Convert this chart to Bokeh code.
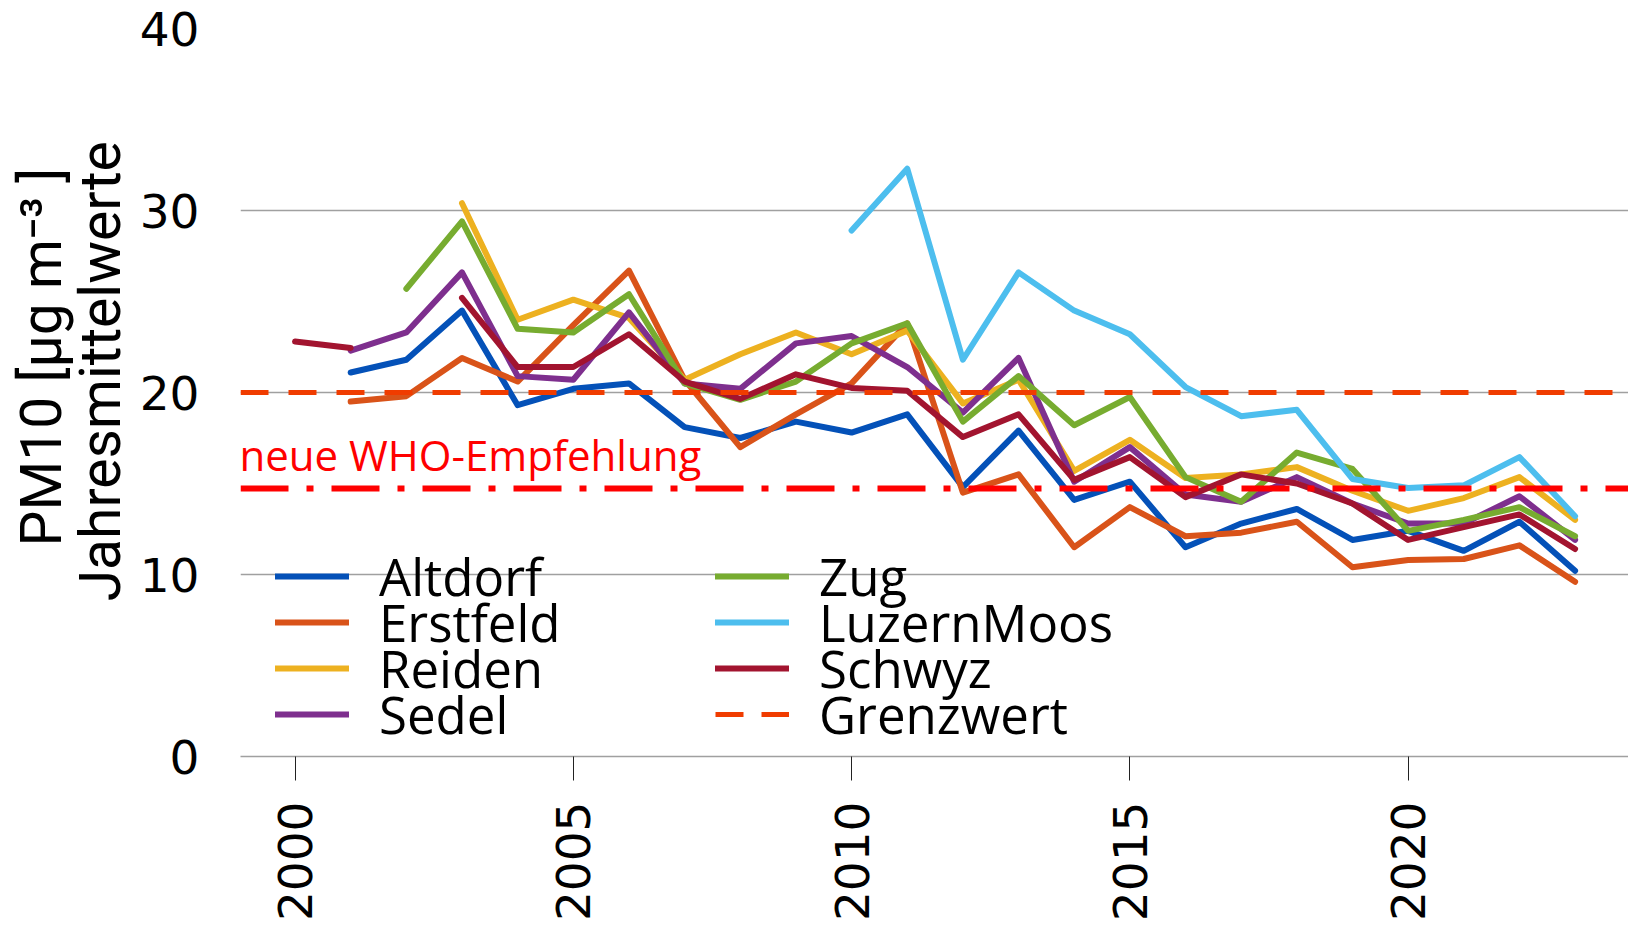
import math
from bokeh.plotting import figure
from bokeh.models import (Range1d, FixedTicker, Span, Label, Legend, LegendItem,
                          LinearAxis)
from bokeh.embed import file_html
from bokeh.resources import INLINE

nan = float("nan")

years = list(range(2000, 2024))

altdorf = [nan, 21.1, 21.8, 24.5, 19.3, 20.2, 20.5, 18.1, 17.5, 18.4, 17.8, 18.8,
           14.8, 17.9, 14.1, 15.1, 11.5, 12.8, 13.6, 11.9, 12.4, 11.3, 12.9, 10.2]
erstfeld = [nan, 19.5, 19.8, 21.9, 20.6, 23.7, 26.7, 20.7, 17.0, 18.8, 20.5, 23.8,
            14.5, 15.5, 11.5, 13.7, 12.1, 12.3, 12.9, 10.4, 10.8, 10.85, 11.6, 9.6]
reiden = [nan, nan, nan, 30.4, 24.0, 25.1, 24.1, 20.7, 22.1, 23.3, 22.1, 23.4,
          19.4, 20.7, 15.7, 17.4, 15.3, 15.5, 15.9, 14.6, 13.5, 14.2, 15.35, 13.0]
sedel = [nan, 22.3, 23.3, 26.6, 20.9, 20.7, 24.4, 20.5, 20.2, 22.7, 23.1, 21.4,
         18.9, 21.9, 15.1, 17.0, 14.4, 14.0, 15.35, 13.9, 12.8, 12.8, 14.3, 11.9]
zug = [nan, nan, 25.7, 29.4, 23.5, 23.3, 25.4, 20.5, 19.6, 20.6, 22.7, 23.8,
       18.4, 20.9, 18.2, 19.75, 15.35, 14.0, 16.7, 15.8, 12.4, 13.0, 13.7, 12.1]
luzernmoos = [nan, nan, nan, nan, nan, nan, nan, nan, nan, nan, 28.9, 32.3,
              21.8, 26.6, 24.5, 23.2, 20.3, 18.7, 19.05, 15.25, 14.75, 14.9, 16.45, 13.2]
schwyz = [22.8, 22.45, nan, 25.2, 21.4, 21.4, 23.2, 20.6, 19.65, 21.0, 20.25, 20.1,
          17.55, 18.8, 15.2, 16.45, 14.25, 15.5, 15.0, 13.9, 11.9, 12.6, 13.3, 11.4]

station_names = ["Altdorf", "Erstfeld", "Reiden", "Sedel", "Zug", "LuzernMoos", "Schwyz"]
station_values = [altdorf, erstfeld, reiden, sedel, zug, luzernmoos, schwyz]
station_colors = ["#0451B8", "#D95319", "#EDB120", "#7E2F8E", "#77AC30", "#4DBEEE", "#A2142F"]

GRENZWERT = 20
WHO_EMPFEHLUNG = 14.72
grenzwert_label = "Grenzwert"
who_label = "neue WHO-Empfehlung"
y_label_top = "PM10 [µg m⁻³ ]"
y_label_bottom = "Jahresmittelwerte"

y_ticks = [0, 10, 20, 30, 40]
x_ticks = [2000, 2005, 2010, 2015, 2020]

NBSP = "\u00a0"

p = figure(width=1628, height=924, output_backend="svg", toolbar_location=None,
           x_range=Range1d(1999.02, 2023.96), y_range=Range1d(0, 40),
           min_border_left=240, min_border_right=0, min_border_top=28,
           min_border_bottom=168)
p.outline_line_color = None
p.xgrid.visible = False
p.ygrid.ticker = FixedTicker(ticks=y_ticks)
p.ygrid.grid_line_color = "#A0A0A0"
p.ygrid.grid_line_width = 1.5

p.yaxis.ticker = FixedTicker(ticks=y_ticks)
p.yaxis.axis_line_color = None
p.yaxis.major_tick_line_color = None
p.yaxis.minor_tick_line_color = None
p.yaxis.major_tick_out = 0
p.yaxis.major_label_standoff = 41
p.yaxis.major_label_text_font = "DejaVu Sans"
p.yaxis.major_label_text_font_size = "47px"
p.yaxis.major_label_text_color = "black"
p.yaxis.axis_label = NBSP * 3 + y_label_bottom
p.yaxis.axis_label_text_font = "Roboto"
p.yaxis.axis_label_text_font_style = "normal"
p.yaxis.axis_label_text_font_size = "57px"
p.yaxis.axis_label_text_color = "black"
p.yaxis.axis_label_standoff = 3

# second (outer) left axis carrying only the first title line
ax2 = LinearAxis(ticker=FixedTicker(ticks=[]), axis_line_color=None,
                 major_tick_line_color=None, minor_tick_line_color=None,
                 major_tick_out=0, minor_tick_out=0, major_label_text_font_size="0px",
                 axis_label=NBSP * 5 + y_label_top, axis_label_text_font="Roboto",
                 axis_label_text_font_style="normal", axis_label_text_font_size="57px",
                 axis_label_text_color="black", axis_label_standoff=-11)
p.add_layout(ax2, "left")

p.xaxis.ticker = FixedTicker(ticks=x_ticks)
p.xaxis.axis_line_color = "#A0A0A0"
p.xaxis.axis_line_width = 1.5
p.xaxis.major_tick_out = 24
p.xaxis.major_tick_in = 0
p.xaxis.major_tick_line_color = "#222222"
p.xaxis.major_tick_line_width = 1
p.xaxis.minor_tick_line_color = None
p.xaxis.major_label_orientation = math.pi / 2
p.xaxis.major_label_standoff = 21
p.xaxis.major_label_text_font = "DejaVu Sans"
p.xaxis.major_label_text_font_size = "47px"
p.xaxis.major_label_text_color = "black"

renderers = []
for name, vals, col in zip(station_names, station_values, station_colors):
    r = p.line(years, vals, line_color=col, line_width=6,
               line_join="round", line_cap="round")
    renderers.append(r)

grenz_span = Span(location=GRENZWERT, dimension="width", line_color="#F03C00",
                  line_width=5, line_dash="28 20")
p.add_layout(grenz_span)
grenz_dummy = p.line(x=[nan], y=[GRENZWERT], line_color="#F03C00", line_width=5,
                     line_dash="28 18")

who_span = Span(location=WHO_EMPFEHLUNG, dimension="width", line_color="#FF0000",
                line_width=6, line_dash="48 18 7 18")
p.add_layout(who_span)
p.add_layout(Label(x=1999.0, y=16.6, text=who_label, text_color="#FF0000",
                   text_font="Open Sans", text_font_size="42px",
                   text_baseline="alphabetic", text_align="left"))

all_items = [LegendItem(label=n, renderers=[r]) for n, r in zip(station_names, renderers)]
all_items.append(LegendItem(label=grenzwert_label, renderers=[grenz_dummy]))

def make_legend(items, loc):
    return Legend(items=items, location=loc, orientation="vertical",
                  glyph_width=74, glyph_height=46, label_height=46,
                  label_standoff=30, spacing=0, padding=0, margin=0,
                  border_line_color=None, background_fill_alpha=0,
                  label_text_font="Open Sans", label_text_font_size="51px",
                  label_text_color="black")

row_offsets = [145, 99, 53, 7]
col_offsets = [35, 475]
for i, item in enumerate(all_items):
    col, row = divmod(i, 4)
    p.add_layout(make_legend([item], (col_offsets[col], row_offsets[row])))

open("out.html", "w").write(file_html(p, INLINE))
